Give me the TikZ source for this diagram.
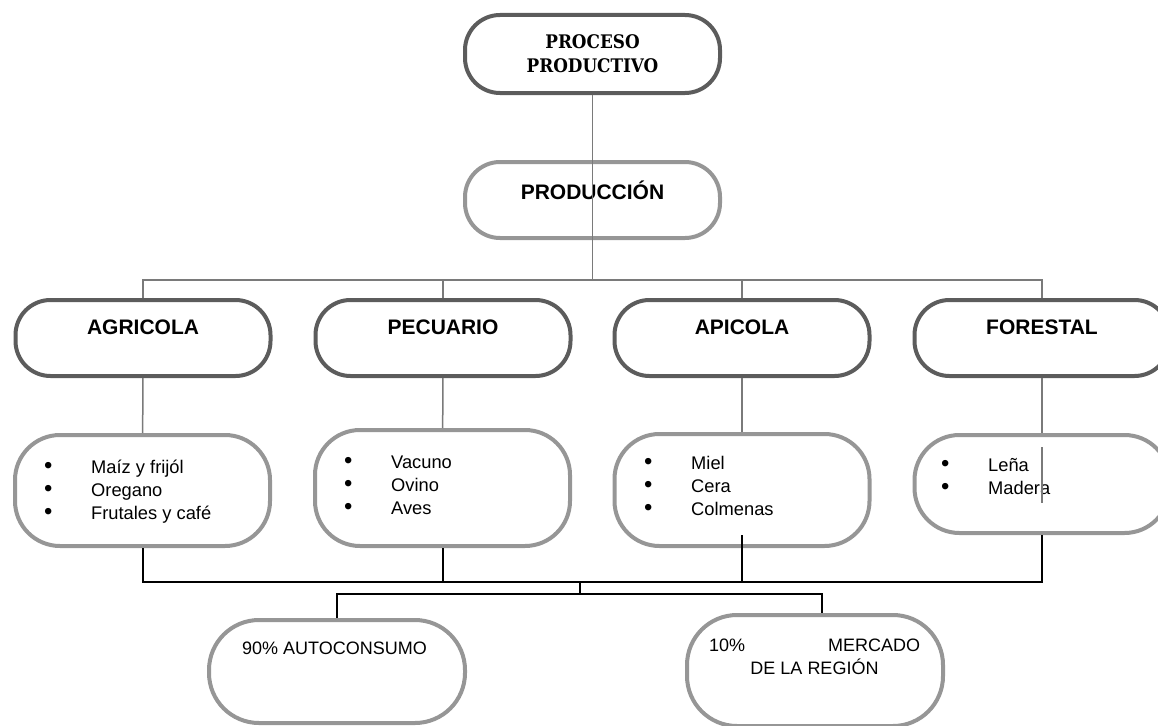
\documentclass[tikz,border=0pt]{standalone}
\usepackage{fontspec}
\setmainfont{Liberation Sans}
\newfontfamily\titleserif{DejaVu Serif Condensed}
\usepackage{xcolor}
\usepackage{tikz}
\usetikzlibrary{positioning}
\definecolor{procgray}{HTML}{5C5C5C}
\definecolor{boxgray}{HTML}{969696}
\definecolor{wiregray}{HTML}{7A7A7A}
\tikzset{darkbox/.style={draw=procgray, line width=4pt, fill=white, rounded corners=35pt, minimum width=255pt, minimum height=76pt, inner sep=0pt}}
\tikzset{lightbox/.style={draw=boxgray, line width=4pt, fill=white, rounded corners=45pt, minimum width=255pt, inner sep=0pt}}
\tikzset{link/.style={draw=wiregray, line width=1.5pt}}
\tikzset{flow/.style={draw=black, line width=2pt}}
\tikzset{headtext/.style={inner sep=0pt, font=\fontsize{21}{25}\selectfont\bfseries}}
\tikzset{itemlist/.style={anchor=base west, inner sep=0pt, font=\fontsize{18.3}{23}\selectfont}}
\tikzset{plaintext/.style={inner sep=0pt, font=\fontsize{18}{23}\selectfont}}
\newcommand{\itm}{\makebox[47pt][l]{\raisebox{-0.4pt}{\scalebox{1.3}{\textbullet}}}}

\begin{document}
\begin{tikzpicture}[x=1pt, y=-1pt]
\useasboundingbox (0,0) rectangle (1158,725);

\node[darkbox, minimum height=78pt, align=center, font=\fontsize{18.7}{24}\selectfont\titleserif\bfseries] (proc) at (592.5,54) {PROCESO\\PRODUCTIVO};
\node[lightbox, rounded corners=35pt, minimum height=76pt] (prod) at (592.5,200) {};
\node[headtext] (prodlabel) at (592.5,190) {PRODUCCIÓN};

\node[darkbox] (agri) at (143,338) {};
\node[headtext] (agrilabel) at (143,327) {AGRICOLA};
\node[darkbox] (pecu) at (443,338) {};
\node[headtext] (peculabel) at (443,327) {PECUARIO};
\node[darkbox] (apic) at (742,338) {};
\node[headtext] (apiclabel) at (742,327) {APICOLA};
\node[darkbox] (fore) at (1042,338) {};
\node[headtext] (forelabel) at (1042,327) {FORESTAL};

\node[lightbox, minimum height=111pt] (agrisub) at (142.5,490.5) {};
\node[itemlist] (agriitems) at (44,473.5) {\begin{tabular}[t]{@{}l@{}}\itm Maíz y frijól\\ \itm Oregano\\ \itm Frutales y café\end{tabular}};
\node[lightbox, minimum height=116pt] (pecusub) at (442.5,488) {};
\node[itemlist] (pecuitems) at (344,468.5) {\begin{tabular}[t]{@{}l@{}}\itm Vacuno\\ \itm Ovino\\ \itm Aves\end{tabular}};
\node[lightbox, minimum height=112pt] (apicsub) at (742,490) {};
\node[itemlist] (apicitems) at (644,469.5) {\begin{tabular}[t]{@{}l@{}}\itm Miel\\ \itm Cera\\ \itm Colmenas\end{tabular}};
\node[lightbox, minimum height=98pt] (foresub) at (1042,484) {};
\node[itemlist] (foreitems) at (941,471.5) {\begin{tabular}[t]{@{}l@{}}\itm Leña\\ \itm Madera\end{tabular}};

\node[lightbox, rounded corners=50pt, minimum width=256pt, minimum height=103pt] (auto) at (337,671.5) {};
\node[plaintext, anchor=west] (autolabel) at (242,648) {90\% AUTOCONSUMO};
\node[lightbox, rounded corners=50pt, minimum width=256pt, minimum height=111pt] (merc) at (815,670.5) {};
\node[plaintext, align=center] (merclabel) at (814.5,656.5) {\makebox[211pt]{10\%\hfill MERCADO}\\DE LA REGIÓN};

\coordinate (bus) at (592.5,280);
\draw[link] (proc) -- (bus);
\draw[link] (agri.north) |- (bus);
\draw[link] (pecu.north) |- (bus);
\draw[link] (apic.north) |- (bus);
\draw[link] (fore.north) |- (bus);
\draw[link] (agri) -- (agrisub);
\draw[link] (pecu) -- (pecusub);
\draw[link] (apic) -- (apicsub);
\draw[link] (fore) -- (foresub);
\draw[link] ([yshift=-14pt]foresub.north) -- ([yshift=-70pt]foresub.north);

\coordinate (bus2) at (580,582);
\coordinate (bus3) at (580,594);
\draw[flow] (agrisub.south) |- (bus2);
\draw[flow] (pecusub.south) |- (bus2);
\draw[flow] ([yshift=13pt]apicsub.south) |- (bus2);
\draw[flow] (foresub.south) |- (bus2);
\draw[flow] (bus2) -- (bus3);
\draw[flow] (bus3) -| (auto.north);
\draw[flow] (bus3) -| ([xshift=7pt]merc.north);
\end{tikzpicture}
\end{document}
